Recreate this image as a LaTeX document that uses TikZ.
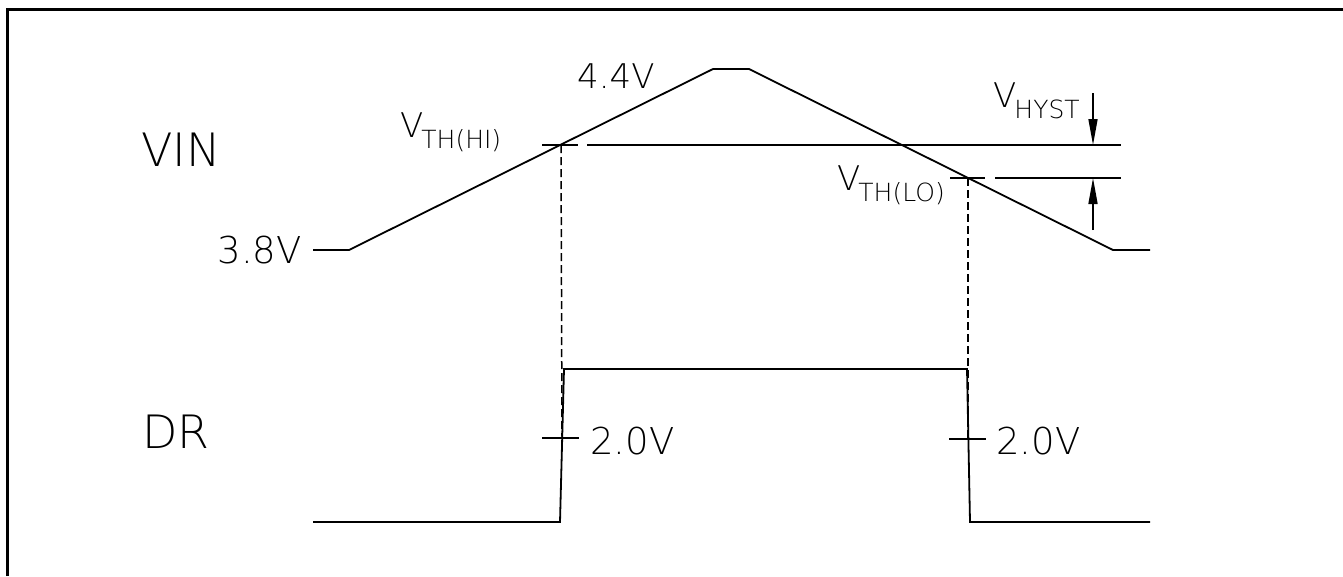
\documentclass[tikz,border=0pt]{standalone}
\usepackage{fontspec}
\setmainfont{DejaVuSans-ExtraLight.ttf}
\usetikzlibrary{arrows.meta}
\definecolor{cInk}{HTML}{000000}
\newcommand{\vsym}[1]{V\kern-2pt\raisebox{-11pt}{\fontsize{25}{25}\selectfont #1}}

\begin{document}
\begin{tikzpicture}[x=1pt, y=-1pt,
  wave/.style={draw=cInk, line width=1.8pt, line join=miter},
  guide/.style={draw=cInk, line width=1.5pt, dash pattern=on 8pt off 4pt},
  dimarrow/.style={draw=cInk, line width=1.6pt, -{Triangle[length=26pt,width=9pt]}},
  lbl/.style={inner sep=0pt, text=cInk},
  big/.style={font=\fontsize{46}{48}\selectfont},
  mid/.style={font=\fontsize{37}{40}\selectfont},
  sml/.style={font=\fontsize{34}{36}\selectfont},
]
  \useasboundingbox (0,0) rectangle (1343,576);
  \draw[line width=3pt, line join=miter] (7.5,576) -- (7.5,9.5) -- (1343,9.5);

  % VIN waveform
  \coordinate (vinStart) at (313,250);
  \coordinate (vinLow)   at (349,250);
  \coordinate (vinPkL)   at (713,69);
  \coordinate (vinPkR)   at (749,69);
  \coordinate (vinEnd)   at (1113,250);
  \coordinate (vinTail)  at (1150,250);
  \draw[wave] (vinStart) -- (vinLow) -- (vinPkL) -- (vinPkR) -- (vinEnd) -- (vinTail);

  % threshold levels
  \coordinate (hiDashL) at (542,145);
  \coordinate (hiDashR) at (578,145);
  \coordinate (hiLineL) at (587,145);
  \coordinate (hiLineR) at (1121,145);
  \coordinate (loDashL) at (950,178);
  \coordinate (loDashR) at (985,178);
  \coordinate (loLineL) at (995,178);
  \coordinate (loLineR) at (1121,178);
  \draw[wave, line width=1.6pt] (hiDashL) -- (hiDashR);
  \draw[wave, line width=1.6pt] (hiLineL) -- (hiLineR);
  \draw[wave, line width=1.6pt] (loDashL) -- (loDashR);
  \draw[wave, line width=1.6pt] (loLineL) -- (loLineR);

  % DR waveform
  \coordinate (drStart) at (313,522);
  \coordinate (drRiseB) at (560,522);
  \coordinate (drRiseT) at (564,369);
  \coordinate (drFallT) at (967,369);
  \coordinate (drFallB) at (970,522);
  \coordinate (drEnd)   at (1150,522);
  \draw[wave] (drStart) -- (drRiseB) -- (drRiseT) -- (drFallT) -- (drFallB) -- (drEnd);

  % guides and 2.0V ticks
  \coordinate (hiX)   at (561,145);
  \coordinate (hiBot) at (562,438);
  \coordinate (loX)   at (968,178);
  \coordinate (loBot) at (968,439);
  \draw[guide] (hiX) -- (hiBot);
  \draw[guide] (loX) -- (loBot);
  \draw[wave, line width=1.6pt] (542,438) coordinate (tickHiL) -- (579,438) coordinate (tickHiR);
  \draw[wave, line width=1.6pt] (949,439) coordinate (tickLoL) -- (986,439) coordinate (tickLoR);

  % hysteresis dimension
  \coordinate (hystTop) at (1093,93);
  \coordinate (hystHi)  at (1093,145);
  \coordinate (hystBot) at (1093,230);
  \coordinate (hystLo)  at (1093,178);
  \draw[dimarrow] (hystTop) -- (hystHi);
  \draw[dimarrow] (hystBot) -- (hystLo);

  % labels
  \node[lbl, big, anchor=base east] (vinLbl) at (221,166) {VIN};
  \node[lbl, big, anchor=base east] (drLbl)  at (210,448) {DR};
  \node[lbl, mid, anchor=base east] (lowLbl) at (302,263) {3.8V};
  \node[lbl, sml, anchor=base west] (pkLbl)  at (577,88)  {4.4V};
  \node[lbl, mid, anchor=base west] (riseLbl) at (590,454) {2.0V};
  \node[lbl, mid, anchor=base west] (fallLbl) at (996,454) {2.0V};
  \node[lbl, sml, anchor=base west] (thHiLbl) at (400,137) {\vsym{TH(HI)}};
  \node[lbl, sml, anchor=base west] (thLoLbl) at (837,190) {\vsym{TH(LO)}};
  \node[lbl, sml, anchor=base west] (hystLbl) at (993,107) {\vsym{HYST}};
\end{tikzpicture}
\end{document}
